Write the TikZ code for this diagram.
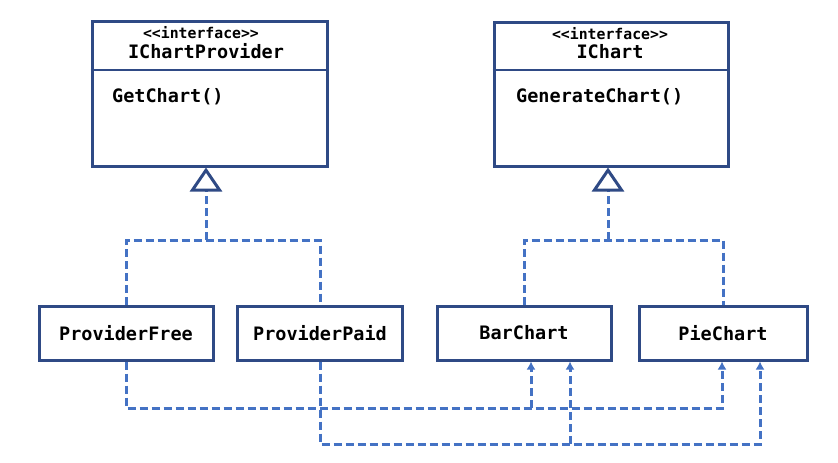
\documentclass[tikz,border=0pt]{standalone}
\usepackage{fontspec}
\setmonofont{DejaVu Sans Mono}
\usetikzlibrary{arrows.meta}
\definecolor{boxc}{HTML}{2F4A85}
\definecolor{linec}{HTML}{4472C4}
\begin{document}
\begin{tikzpicture}[x=1pt,y=-1pt,
  cls/.style={draw=boxc,line width=3pt,fill=white,inner sep=0pt,
    font=\ttfamily\bfseries\fontsize{18.5}{20}\selectfont},
  txt/.style={inner sep=0pt,font=\ttfamily\bfseries\fontsize{18.5}{20}\selectfont},
  stereo/.style={inner sep=0pt,font=\ttfamily\bfseries\fontsize{14.8}{16}\selectfont},
  impl/.style={draw=linec,line width=3pt,dash pattern=on 8pt off 4pt},
  dep/.style={impl,-{Latex[length=8pt,width=9pt]}},
  real/.style={impl,-{Triangle[open,fill=white,length=24pt,width=32pt,color=boxc,line width=3pt]}}
]
\useasboundingbox (0,0) rectangle (838,463);
% interface boxes
\node[cls,minimum width=235pt,minimum height=145pt] (icp) at (209.5,93.5) {};
\node[cls,minimum width=234pt,minimum height=144pt] (ic) at (611,94) {};
\coordinate (dv) at (0,70);
\draw[boxc,line width=2.5pt] (icp.west |- dv) -- (icp.east |- dv);
\draw[boxc,line width=2.5pt] (ic.west |- dv) -- (ic.east |- dv);
\node[stereo] (icps) at (201,33) {<<interface>>};
\node[txt] (icpn) at (206,51) {IChartProvider};
\node[txt,anchor=west] (icpm) at (112,97) {GetChart()};
\node[stereo] (ics) at (610,34) {<<interface>>};
\node[txt] (icn) at (610,52) {IChart};
\node[txt,anchor=west] (icm) at (516,97) {GenerateChart()};
% classes
\node[cls,minimum width=174pt,minimum height=54pt] (pf) at (126,333) {ProviderFree};
\node[cls,minimum width=165pt,minimum height=54pt] (pp) at (320,333) {ProviderPaid};
\node[cls,minimum width=174pt,minimum height=54pt] (bar) at (524,333) {BarChart};
\node[cls,minimum width=168pt,minimum height=54pt] (pie) at (723,333) {PieChart};
% realization
\coordinate (jL) at (206,240);
\coordinate (jR) at (608,240);
\draw[impl] (pf.north) |- (jL) -| (pp.north);
\draw[real] (jL) -- (jL |- icp.south);
\draw[impl] (bar.north) |- (jR) -| (pie.north);
\draw[real] (jR) -- (jR |- ic.south);
% dependencies
\coordinate (p1) at (722,408);
\coordinate (p2) at (760,444);
\coordinate (b1) at (531,408);
\coordinate (b2) at (570,444);
\draw[dep] (pf.south) |- (p1) -- (p1 |- pie.south);
\draw[dep] (b1) -- (b1 |- bar.south);
\draw[dep] (pp.south) |- (p2) -- (p2 |- pie.south);
\draw[dep] (b2) -- (b2 |- bar.south);
\end{tikzpicture}
\end{document}
